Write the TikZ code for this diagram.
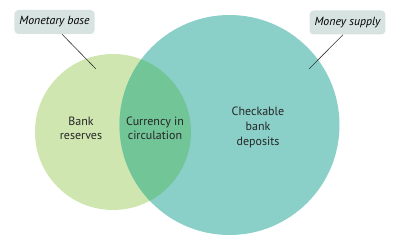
\documentclass[tikz,border=0pt]{standalone}
\usepackage{fontspec}
\setmainfont{PT Sans}
\usepackage{tikz}
\usetikzlibrary{positioning}

\definecolor{baseGreen}{HTML}{D0E6B0}
\definecolor{supplyTeal}{HTML}{8AD0C8}
\definecolor{overlapGreen}{HTML}{72C597}
\definecolor{tagGrey}{HTML}{D7E3E0}

\begin{document}
\begin{tikzpicture}[
  x=1pt, y=-1pt,
  font=\fontsize{12}{14}\selectfont,
  tag/.style={fill=tagGrey, rounded corners=4pt, inner xsep=5pt, inner ysep=4pt, font=\fontsize{11.8}{13}\selectfont\itshape, minimum height=24pt},
  txt/.style={align=center, inner sep=0pt, text=black!85},
  lead/.style={draw=black!80, line width=0.6pt}
]
\useasboundingbox (0,0) rectangle (400,248);
% the two sets
\fill[baseGreen] (113,132) circle[radius=78pt];
\fill[supplyTeal] (229.5,125) circle[radius=110pt];
\begin{scope}
  \clip (113,132) circle[radius=78pt];
  \fill[overlapGreen] (229.5,125) circle[radius=110pt];
\end{scope}
% contents
\node[txt] (res) at (81,128) {Bank\\reserves};
\node[txt] (cur) at (155,128) {Currency in\\circulation};
\node[txt, font=\fontsize{12}{15}\selectfont] (dep) at (258,127.5) {Checkable\\bank\\deposits};
% tags
\node[tag] (mb) at (54.5,22) {Monetary base};
\node[tag] (ms) at (347.5,22.5) {Money supply};
\coordinate (mbend) at (96,69);
\coordinate (msend) at (309,69);
\draw[lead] ([xshift=7.5pt]mb.south) -- (mbend);
\draw[lead] ([xshift=-4.5pt]ms.south) -- (msend);
\end{tikzpicture}
\end{document}
